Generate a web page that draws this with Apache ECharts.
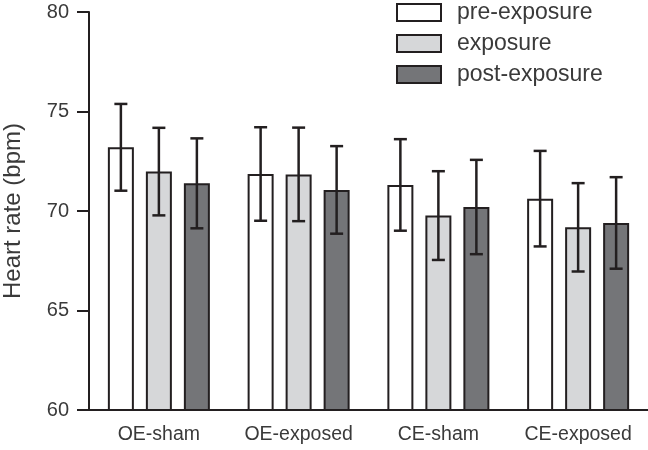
<!DOCTYPE html>
<html>
<head>
<meta charset="utf-8">
<script src="https://cdn.jsdelivr.net/npm/echarts@6/dist/echarts.min.js"></script>
<style>
  html, body { margin: 0; padding: 0; background: #fff; }
  #chart { width: 648px; height: 450px; }
</style>
</head>
<body>
<div id="chart"></div>
<script>
// groups on the x axis
const categories = ['OE-sham', 'OE-exposed', 'CE-sham', 'CE-exposed'];
const seriesNames = ['pre-exposure', 'exposure', 'post-exposure'];

// mean heart rate (bpm)
const preMean = [73.2, 71.86, 71.31, 70.62];
const expMean = [71.98, 71.84, 69.77, 69.18];
const postMean = [71.39, 71.06, 70.2, 69.4];

// error (+/-)
const preErr = [2.18, 2.35, 2.3, 2.4];
const expErr = [2.2, 2.35, 2.23, 2.22];
const postErr = [2.26, 2.2, 2.37, 2.3];

const yTicks = [60, 65, 70, 75, 80];

const ink = '#231f20';
const fills = ['#ffffff', '#d6d7d9', '#747578'];
const BAR_W = 26;
const BAR_GAP = 12;

const means = [preMean, expMean, postMean];
const errs = [preErr, expErr, postErr];

const chart = echarts.init(document.getElementById('chart'));

const barSeries = seriesNames.map((name, i) => ({
  name: name,
  type: 'bar',
  data: means[i],
  barWidth: BAR_W,
  barGap: (BAR_GAP / BAR_W * 100) + '%',
  itemStyle: { color: fills[i], borderColor: ink, borderWidth: 2 },
  emphasis: { disabled: true },
  z: 2
}));

const errSeries = seriesNames.map((name, i) => ({
  type: 'custom',
  name: name + '-err',
  data: means[i].map((m, j) => [j, m - errs[i][j], m + errs[i][j]]),
  z: 5,
  renderItem: function (params, api) {
    const idx = api.value(0);
    const lo = api.coord([idx, api.value(1)]);
    const hi = api.coord([idx, api.value(2)]);
    const offset = (i - 1) * (BAR_W + BAR_GAP);
    const x = lo[0] + offset;
    const cap = 6.5;
    const style = { stroke: ink, lineWidth: 2.5 };
    return {
      type: 'group',
      children: [
        { type: 'line', shape: { x1: x, y1: lo[1], x2: x, y2: hi[1] }, style: style },
        { type: 'line', shape: { x1: x - cap, y1: hi[1], x2: x + cap, y2: hi[1] }, style: style },
        { type: 'line', shape: { x1: x - cap, y1: lo[1], x2: x + cap, y2: lo[1] }, style: style }
      ]
    };
  }
}));

const option = {
  animation: false,
  textStyle: { fontFamily: 'Liberation Sans, Arial, sans-serif' },
  legend: {
    data: seriesNames,
    orient: 'vertical',
    left: 396,
    top: 1,
    padding: 0,
    itemWidth: 44,
    itemHeight: 17,
    itemGap: 8,
    icon: 'rect',
    textStyle: { fontSize: 23, color: '#3a3a3a', padding: [0, 0, 0, 11] }
  },
  grid: { left: 89, right: 0, top: 12, bottom: 40, containLabel: false, outerBoundsMode: 'none' },
  xAxis: {
    type: 'category',
    data: categories,
    axisLine: { lineStyle: { color: ink, width: 2 } },
    axisTick: { alignWithLabel: true, interval: 0, length: 12, lineStyle: { color: ink, width: 2 } },
    axisLabel: { interval: 0, hideOverlap: false, fontSize: 19.5, color: '#3a3a3a', margin: 15 }
  },
  yAxis: {
    type: 'value',
    min: yTicks[0],
    max: yTicks[yTicks.length - 1],
    interval: yTicks[1] - yTicks[0],
    name: 'Heart rate (bpm)',
    nameLocation: 'middle',
    nameGap: 64,
    nameTextStyle: { fontSize: 24, color: '#3a3a3a' },
    axisLine: { show: true, lineStyle: { color: ink, width: 2 } },
    axisTick: { show: true, length: 12, lineStyle: { color: ink, width: 2 } },
    axisLabel: { fontSize: 20, color: '#3a3a3a', margin: 20 },
    splitLine: { show: false }
  },
  series: barSeries.concat(errSeries)
};

chart.setOption(option);
</script>
</body>
</html>
